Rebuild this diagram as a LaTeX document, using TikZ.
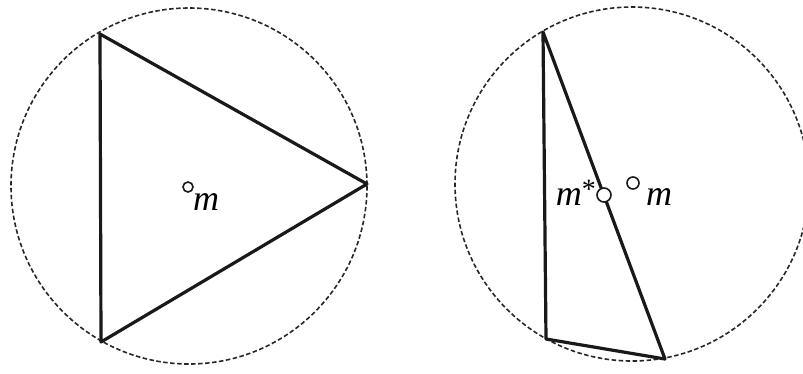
\documentclass[tikz,border=0pt]{standalone}
\usepackage{fontspec}
\setmainfont{Liberation Serif}
\newfontfamily\labfont{Liberation Serif}
\begin{document}
\begin{tikzpicture}[x=1pt,y=-1pt,
  outer/.style={draw=black!85, line width=1.6pt, dash pattern=on 4.5pt off 2.5pt},
  tri/.style={draw=black!90, line width=3.2pt, line join=round},
  pt/.style={circle, draw=black!90, line width=1.6pt, fill=white, inner sep=0pt},
  lab/.style={font=\labfont\fontsize{36}{38}\selectfont\itshape, inner sep=0pt}]
\useasboundingbox (0,0) rectangle (803,373);
\clip (0,0) rectangle (803,373);
% left
\coordinate (LC) at (189,186);
\draw[outer] (LC) circle[radius=178];
\coordinate (A1) at (100,34);
\coordinate (B1) at (101,342);
\coordinate (C1) at (367,184);
\draw[tri] (A1) -- (B1) -- (C1) -- cycle;
\node[pt, minimum size=10pt] (m1) at (188,187) {};
\node[lab, anchor=base west] (lm1) at (193,210) {m};
% right
\coordinate (RC) at (632,184);
\draw[outer] (RC) circle[radius=177];
\coordinate (A2) at (543,32);
\coordinate (B2) at (546,339);
\coordinate (C2) at (665,359);
\draw[tri] (A2) -- (B2) -- (C2) -- cycle;
\node[pt, minimum size=14pt] (ms) at (604,195) {};
\node[pt, minimum size=12pt] (m2) at (633,183) {};
\node[lab, anchor=base east] (lms) at (596,205) {m\raisebox{7pt}{\fontsize{28}{28}\selectfont\upshape *}};
\node[lab, anchor=base west] (lm2) at (646,205) {m};
\end{tikzpicture}
\end{document}
